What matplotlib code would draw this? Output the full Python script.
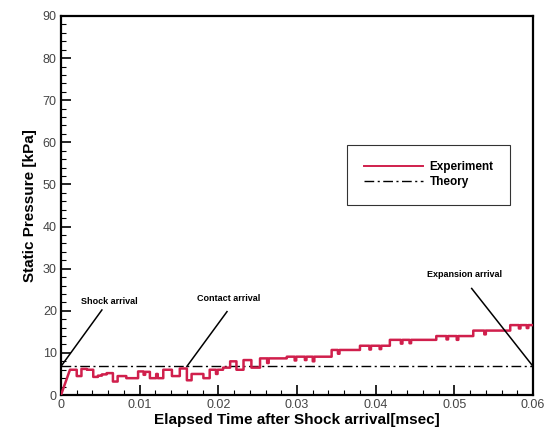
import numpy as np
import matplotlib
matplotlib.use("Agg")
import matplotlib.pyplot as plt
from matplotlib.ticker import AutoMinorLocator, MultipleLocator

plt.rcParams['font.family'] = ['Liberation Sans', 'DejaVu Sans']

# measured static pressure: plateau start times [msec] and levels [kPa]
# (level i holds from step_time[i] to step_time[i+1])
step_time = [0.00114, 0.0020, 0.0026, 0.0033, 0.0041, 0.0047, 0.0052, 0.0058,
             0.0066, 0.0072, 0.0083, 0.0098, 0.0105, 0.0107, 0.0113, 0.0121,
             0.0123, 0.0130, 0.0141, 0.0151, 0.0160, 0.0166, 0.0181, 0.0189,
             0.0197, 0.0199, 0.0206, 0.0215, 0.0223, 0.0232, 0.0242, 0.0253,
             0.0262, 0.0264, 0.0287, 0.0297, 0.0299, 0.0310, 0.0312, 0.0320,
             0.0322, 0.0344, 0.0352, 0.0354, 0.0380, 0.0392, 0.0394, 0.0405,
             0.0407, 0.0418, 0.0432, 0.0434, 0.0443, 0.0445, 0.0477, 0.0490,
             0.0492, 0.0503, 0.0505, 0.0524, 0.0538, 0.0540, 0.0571, 0.0582,
             0.0584, 0.0592, 0.0594, 0.0600]
step_press = [6.0, 4.5, 6.2, 6.0, 4.3, 4.6, 4.9, 5.2,
              3.2, 4.5, 4.0, 5.6, 4.8, 5.5, 4.0, 5.0,
              4.0, 6.0, 4.5, 6.3, 3.5, 5.0, 4.0, 6.0,
              5.0, 6.0, 6.5, 8.0, 6.0, 8.3, 6.5, 8.7,
              7.6, 8.7, 9.1, 8.2, 9.1, 8.3, 9.1, 8.0,
              9.1, 10.7, 9.8, 10.7, 11.7, 10.8, 11.7, 10.9,
              11.7, 13.1, 12.2, 13.1, 12.3, 13.1, 14.0, 13.2,
              14.0, 13.1, 14.0, 15.3, 14.4, 15.3, 16.6, 15.8,
              16.6, 15.9, 16.6, 16.6]

# ideal shock-tube level
theory_time = [0.0, 0.06]
theory_press = [6.8, 6.8]

# label text, text position, leader start, leader tip
notes = [
    ("Shock arrival", (0.0062, 22.3), (0.0052, 20.2), (0.0, 6.8)),
    ("Contact arrival", (0.0213, 23.0), (0.0211, 19.8), (0.0160, 6.8)),
    ("Expansion arrival", (0.0513, 28.5), (0.0522, 25.3), (0.0600, 6.8)),
]

fig = plt.figure(figsize=(5.47, 4.32), dpi=100)
ax = fig.add_axes([0.1115, 0.0856, 0.863, 0.8774])

# initial ramp, then hold each plateau until the next step
t_line, p_line = [0.0], [0.0]
for i in range(len(step_time) - 1):
    t_line += [step_time[i], step_time[i + 1]]
    p_line += [step_press[i], step_press[i]]
ax.plot(t_line, p_line, color='#d01f4c', lw=1.8, label='Experiment', zorder=3)
ax.plot(theory_time, theory_press, color='black', lw=1.0,
        dashes=(7, 2.5, 1.5, 2.5), label='Theory', zorder=2)

for text, tpos, start, tip in notes:
    ax.text(tpos[0], tpos[1], text, fontsize=6.5, fontweight='bold',
            ha='center', va='center')
    ax.plot([start[0], tip[0]], [start[1], tip[1]], color='black', lw=1.1,
            zorder=4)

ax.set_xlim(0, 0.06)
ax.set_ylim(0, 90)
ax.xaxis.set_major_locator(MultipleLocator(0.01))
ax.yaxis.set_major_locator(MultipleLocator(10))
ax.xaxis.set_minor_locator(AutoMinorLocator(5))
ax.yaxis.set_minor_locator(AutoMinorLocator(5))
ax.set_xticks([0, 0.01, 0.02, 0.03, 0.04, 0.05, 0.06])
ax.set_xticklabels(['0', '0.01', '0.02', '0.03', '0.04', '0.05', '0.06'])
ax.tick_params(which='major', direction='in', length=7, width=1.2,
               labelsize=9, labelcolor='#444444', pad=3)
ax.tick_params(which='minor', direction='in', length=3.5, width=0.8)
for s in ['top', 'bottom', 'left', 'right']:
    ax.spines[s].set_linewidth(1.6)

ax.set_xlabel('Elapsed Time after Shock arrival[msec]', fontsize=11,
              fontweight='bold', labelpad=1)
ax.set_ylabel('Static Pressure [kPa]', fontsize=11, fontweight='bold',
              labelpad=4)

leg = ax.legend(loc='upper left', bbox_to_anchor=(0.606, 0.66),
                borderaxespad=0, fontsize=8.5, frameon=True, fancybox=False,
                handlelength=5.0, borderpad=1.4, labelspacing=0.25,
                handletextpad=0.6)
leg.get_frame().set_edgecolor('black')
leg.get_frame().set_linewidth(0.8)
leg.get_lines()[0].set_linewidth(1.4)
for t in leg.get_texts():
    t.set_fontweight('bold')

fig.savefig('out.png', dpi=100)
